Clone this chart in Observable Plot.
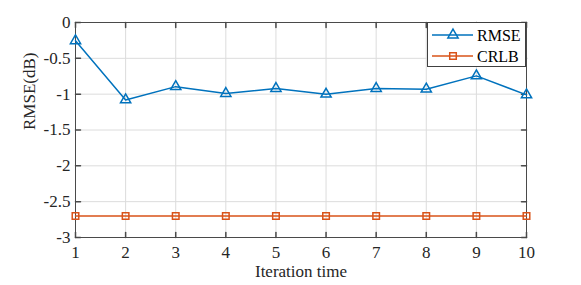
<!DOCTYPE html>
<html><head><meta charset="utf-8">
<script src="https://cdn.jsdelivr.net/npm/d3@7"></script>
<script src="https://cdn.jsdelivr.net/npm/@observablehq/plot@0.6"></script>
<style>
body{margin:0;background:#fff;}
#wrap{position:relative;width:581px;height:285px;font-family:"Liberation Serif","Times New Roman",serif;}
#wrap svg text{font-family:"Liberation Serif","Times New Roman",serif !important;}
#legend{position:absolute;left:427px;top:22px;width:99px;height:45px;border:1px solid #404040;background:#fff;box-sizing:border-box;}
</style>
</head><body><div id="wrap"></div>
<script>
const iterations = [1, 2, 3, 4, 5, 6, 7, 8, 9, 10];
const rmse = [-0.255, -1.08, -0.895, -0.99, -0.92, -1.0, -0.92, -0.93, -0.745, -1.01];
const crlb = [-2.70, -2.70, -2.70, -2.70, -2.70, -2.70, -2.70, -2.70, -2.70, -2.70];
const xTicks = [1, 2, 3, 4, 5, 6, 7, 8, 9, 10];
const yTicks = [0, -0.5, -1, -1.5, -2, -2.5, -3];
const seriesNames = ["RMSE", "CRLB"];
const colors = ["#0072BD", "#D95319"];

const data = iterations.map((x, i) => ({x, rmse: rmse[i], crlb: crlb[i]}));
const tickShape = {draw(c, l) { c.moveTo(0, 0); c.lineTo(0, -l); }};
const tk = 5;
const serif = '"Liberation Serif","Times New Roman",serif';

const chart = Plot.plot({
  width: 581, height: 285,
  marginLeft: 75, marginRight: 55, marginTop: 22, marginBottom: 48,
  style: {fontFamily: serif, fontSize: "17px", color: "#262626", background: "#fff"},
  x: {domain: [1, 10]},
  y: {domain: [-3, 0]},
  marks: [
    Plot.gridX(xTicks, {stroke: "#dcdcdc", strokeOpacity: 1}),
    Plot.gridY(yTicks, {stroke: "#dcdcdc", strokeOpacity: 1}),
    Plot.frame({stroke: "#4a4a4a", strokeWidth: 1}),
    Plot.vector(xTicks, {x: d => d, frameAnchor: "bottom", rotate: 0, length: tk, anchor: "start", shape: tickShape, stroke: "#4a4a4a"}),
    Plot.vector(xTicks, {x: d => d, frameAnchor: "top", rotate: 180, length: tk, anchor: "start", shape: tickShape, stroke: "#4a4a4a"}),
    Plot.vector(yTicks, {y: d => d, frameAnchor: "left", rotate: 90, length: tk, anchor: "start", shape: tickShape, stroke: "#4a4a4a"}),
    Plot.vector(yTicks, {y: d => d, frameAnchor: "right", rotate: -90, length: tk, anchor: "start", shape: tickShape, stroke: "#4a4a4a"}),
    Plot.axisX({ticks: xTicks, tickSize: 0, tickPadding: 8, tickFormat: d => String(d), label: null, fill: "#262626", fontFamily: serif, fontSize: 17}),
    Plot.axisY({ticks: yTicks, tickSize: 0, tickPadding: 5, tickFormat: d => String(d), label: null, fill: "#262626", fontFamily: serif, fontSize: 17}),
    Plot.text(["Iteration time"], {frameAnchor: "bottom", dy: 39, fill: "#262626", fontFamily: serif, fontSize: 17}),
    Plot.text(["RMSE(dB)"], {frameAnchor: "left", dx: -46, rotate: -90, fill: "#262626", fontFamily: serif, fontSize: 17}),
    Plot.line(data, {x: "x", y: "crlb", stroke: colors[1], strokeWidth: 1.5}),
    Plot.dot(data, {x: "x", y: "crlb", symbol: "square", r: 3.7, stroke: colors[1], strokeWidth: 1.5, fill: "none"}),
    Plot.line(data, {x: "x", y: "rmse", stroke: colors[0], strokeWidth: 1.5}),
    Plot.dot(data, {x: "x", y: "rmse", symbol: "triangle", r: 3.8, stroke: colors[0], strokeWidth: 1.5, fill: "none"})
  ]
});
const wrap = document.getElementById("wrap");
wrap.appendChild(chart);

const legend = document.createElement("div");
legend.id = "legend";
const syms = ["triangle", "square"];
let svg = `<svg width="97" height="43" xmlns="http://www.w3.org/2000/svg" style="display:block">`;
seriesNames.forEach((name, i) => {
  const y = 12 + i * 21;
  const c = colors[i];
  svg += `<line x1="4" x2="45" y1="${y}" y2="${y}" stroke="${c}" stroke-width="1.5"/>`;
  if (syms[i] === "triangle") {
    svg += `<path d="${d3.symbol(d3.symbolTriangle, Math.PI * 3.8 * 3.8)()}" transform="translate(25,${y})" fill="none" stroke="${c}" stroke-width="1.5"/>`;
  } else {
    svg += `<path d="${d3.symbol(d3.symbolSquare, Math.PI * 3.7 * 3.7)()}" transform="translate(25,${y})" fill="none" stroke="${c}" stroke-width="1.5"/>`;
  }
  svg += `<text x="49" y="${y}" dy="0.35em" font-size="16" fill="#000" font-family="Liberation Serif, Times New Roman, serif">${name}</text>`;
});
svg += `</svg>`;
legend.innerHTML = svg;
wrap.appendChild(legend);
</script>
</body></html>
